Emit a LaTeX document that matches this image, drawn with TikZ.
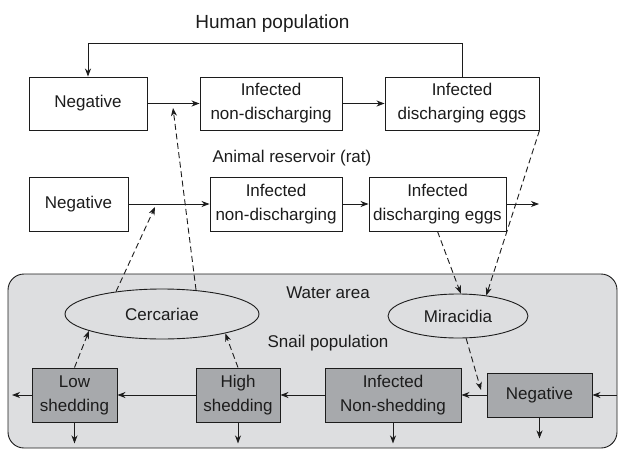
\documentclass[tikz,border=0pt]{standalone}
\usepackage{fontspec}
\setmainfont{Liberation Sans}
\usetikzlibrary{arrows.meta,shapes.geometric}
\definecolor{ink}{RGB}{28,28,28}
\definecolor{water}{RGB}{221,222,224}
\definecolor{snail}{RGB}{167,169,172}
\begin{document}
\begin{tikzpicture}[x=1pt,y=-1pt,line width=0.9pt,color=ink,
  txt/.style={font=\fontsize{17}{24}\selectfont},
  box/.style={txt,draw,fill=white,minimum height=53pt,inner sep=0pt,align=center},
  sbox/.style={box,fill=snail,minimum height=54pt},
  blob/.style={txt,draw,ellipse,inner sep=0pt},
  arr/.style={-{Stealth[length=8pt,width=6pt,inset=2.5pt]}},
  dsh/.style={arr,dash pattern=on 6pt off 3.5pt}]
\useasboundingbox (0,0) rectangle (619,450);
\draw[fill=water,rounded corners=16pt] (8,274) rectangle (617,448);
\node[font=\fontsize{19}{22}\selectfont] (hum) at (272.5,24) {Human population};
\node[box,minimum width=118pt] (hneg) at (88,103.5) {Negative};
\node[box,minimum width=142pt] (hinf) at (271,103.5) {Infected\\non-discharging};
\node[box,minimum width=154pt] (hdis) at (462,103.5) {Infected\\discharging eggs};
\node[txt] (rat) at (292,158) {Animal reservoir (rat)};
\node[box,minimum width=99pt,minimum height=54pt] (rneg) at (78.5,204) {Negative};
\node[box,minimum width=132pt,minimum height=54pt] (rinf) at (276,204) {Infected\\non-discharging};
\node[box,minimum width=137pt,minimum height=54pt] (rdis) at (437.5,204) {Infected\\discharging eggs};
\node[txt] (wlab) at (328,293) {Water area};
\node[blob,minimum width=194pt,minimum height=50pt] (cerc) at (162,314) {Cercariae};
\node[blob,minimum width=140pt,minimum height=44pt] (mir) at (458,316) {Miracidia};
\node[txt] (slab) at (328,343) {Snail population};
\node[sbox,minimum width=85pt] (low) at (74.5,395) {Low\\shedding};
\node[sbox,minimum width=84pt] (high) at (238,395) {High\\shedding};
\node[sbox,minimum width=136pt] (sinf) at (393,395) {Infected\\Non-shedding};
\node[sbox,minimum width=105pt,minimum height=44pt] (sneg) at (539.5,395) {Negative};
\coordinate (hhit) at (173,108);
\coordinate (rhit) at (155,207);
\coordinate (shit) at (481,390);
\coordinate (rout) at (539,204);
\coordinate (sin) at (617,395);
\coordinate (sout) at (12,395);
\draw[arr] (hdis.north) -- ++(0,-33) -| (hneg.north);
\draw[arr] (hneg) -- (hinf);
\draw[arr] (hinf) -- (hdis);
\draw[arr] (rneg) -- (rinf);
\draw[arr] (rinf) -- (rdis);
\draw[arr] (rdis) -- (rout);
\draw[dsh] (cerc.154) -- (rhit);
\draw[dsh] (cerc.35) -- (hhit);
\draw[dsh] (rdis.south) -- (mir.83);
\draw[dsh] (hdis.south east) -- (mir.36);
\draw[dsh] (mir.-70) -- (shit);
\draw[dsh] (low.north) -- (cerc.193);
\draw[dsh] (high.north) -- (cerc.343);
\draw[arr] (sin) -- (sneg);
\draw[arr] (sneg) -- (sinf);
\draw[arr] (sinf) -- (high);
\draw[arr] (high) -- (low);
\draw[arr] (low) -- (sout);
\foreach \n in {low,high,sinf,sneg} \draw[arr] (\n.south) -- ++(0,21);
\end{tikzpicture}
\end{document}
